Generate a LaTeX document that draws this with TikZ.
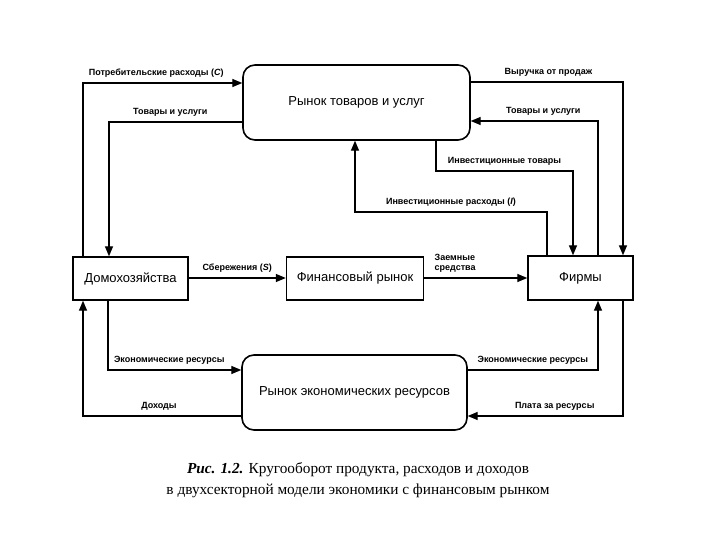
\documentclass[tikz,border=0pt]{standalone}
\usepackage{fontspec}
\setmainfont{Liberation Serif}
\setsansfont{Liberation Sans}
\usetikzlibrary{arrows}
\usetikzlibrary{positioning, calc}

\tikzset{
  market/.style={draw, line width=1.6pt, rounded corners=12pt, font=\sffamily\fontsize{13}{15}\selectfont},
  agent/.style={draw, line width=1.6pt, font=\sffamily\fontsize{13}{15}\selectfont},
  flow/.style={->, >=triangle 45, line width=1.3pt},
  lbl/.style={font=\sffamily\bfseries\fontsize{9}{10.5}\selectfont, above=1.5pt}
}

\begin{document}
\begin{tikzpicture}[x=1pt, y=-1pt]
      \useasboundingbox (0,0) rectangle (720,540);

      \node[market, minimum width=227pt, minimum height=75pt] (goods) at (356.5,102.5) {Рынок товаров и услуг};
      \node[market, minimum width=225pt, minimum height=75pt] (res) at (354.5,392.5) {Рынок экономических ресурсов};
      \node[agent, minimum width=115pt, minimum height=43pt] (house) at (130.5,278.5) {Домохозяйства};
      \node[agent, minimum width=137pt, minimum height=43pt] (fin) at (355,278.5) {Финансовый рынок};
      \node[agent, minimum width=105pt, minimum height=44pt] (firms) at (580.5,278) {Фирмы};

      % upper loop
      \draw[flow] (83,0 |- house.north) |- (goods.west |- 0,83) node[lbl, pos=0.73] {Потребительские расходы (\textit{C})};
      \draw[flow] (goods.west |- 0,122) -| (109,0 |- house.north) node[lbl, pos=0.27] {Товары и услуги};
      \draw[flow] (goods.east |- 0,82) -| (623,0 |- firms.north) node[lbl, pos=0.255] {Выручка от продаж};
      \draw[flow] (598,0 |- firms.north) |- (goods.east |- 0,121) node[lbl, pos=0.715] {Товары и услуги};
      \draw[flow] (436,0 |- goods.south) -- (436,171) -- (573,171) node[lbl, midway] {Инвестиционные товары} -- (573,0 |- firms.north);
      \draw[flow] (547,0 |- firms.north) -- (547,212) -- (355,212) node[lbl, midway] {Инвестиционные расходы (\textit{I})} -- (355,0 |- goods.south);

      % middle
      \draw[flow] (house.east |- 0,278) -- (fin.west |- 0,278) node[lbl, midway] {Сбережения (\textit{S})};
      \draw[flow] (fin.east |- 0,278) -- (firms.west |- 0,278) node[lbl, pos=0.3, align=left] {Заемные\\средства};

      % lower loop
      \draw[flow] (108,0 |- house.south) |- (res.west |- 0,370) node[lbl, pos=0.73] {Экономические ресурсы};
      \draw[flow] (res.west |- 0,416) -| (83,0 |- house.south) node[lbl, pos=0.26] {Доходы};
      \draw[flow] (res.east |- 0,370) -| (598,0 |- firms.south) node[lbl, pos=0.25] {Экономические ресурсы};
      \draw[flow] (623,0 |- firms.south) |- (res.east |- 0,416) node[lbl, pos=0.72] {Плата за ресурсы};

      \node[font=\fontsize{15.3}{21}\selectfont, align=center] (cap) at (358,480) {\textbf{\textit{Рис. 1.2.}} Кругооборот продукта, расходов и доходов\\в двухсекторной модели экономики с финансовым рынком};
    \end{tikzpicture}
\end{document}
